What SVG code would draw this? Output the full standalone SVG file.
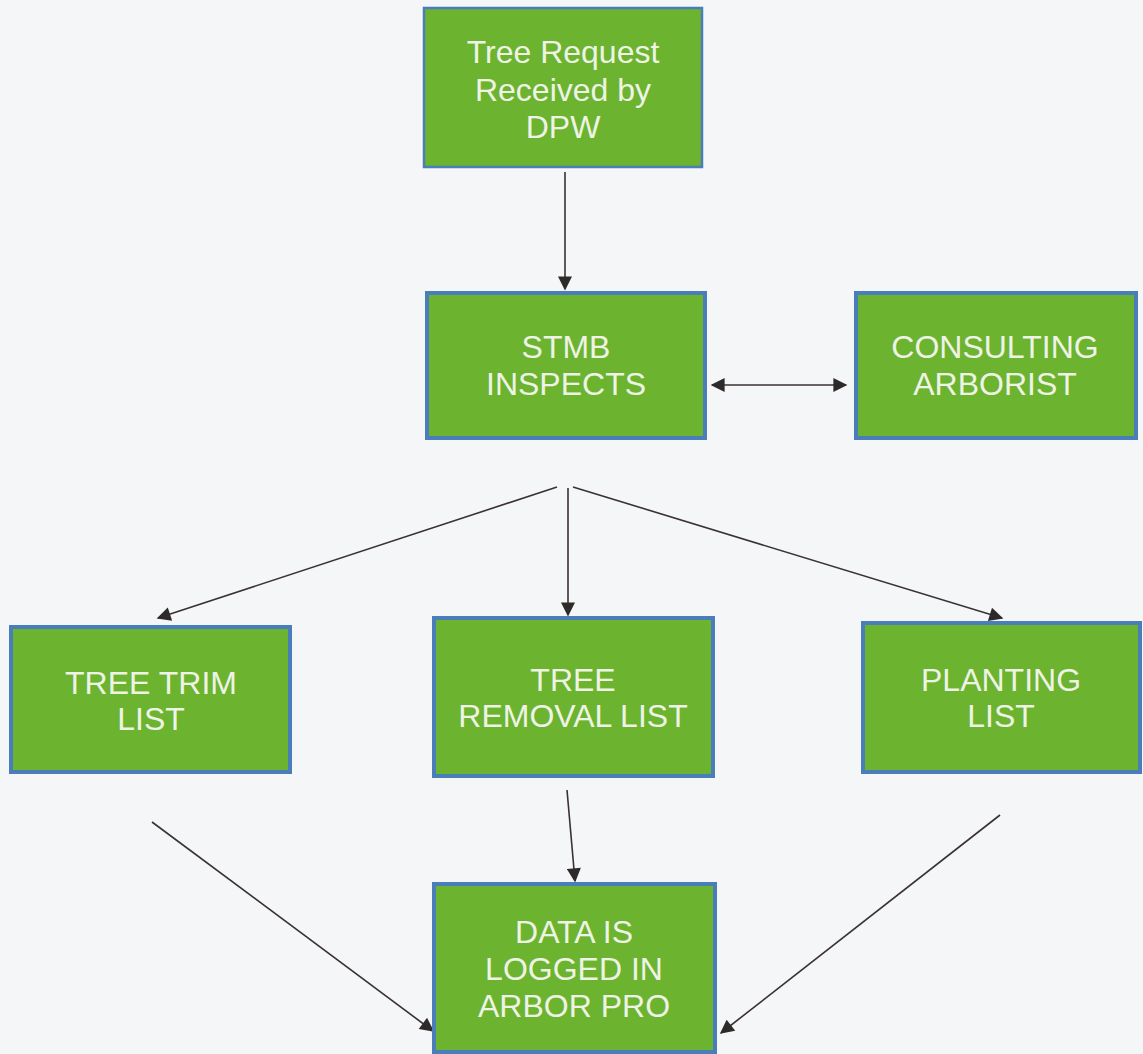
<svg xmlns="http://www.w3.org/2000/svg" width="1143" height="1054" viewBox="0 0 1143 1054">
<style>
.box{fill:#6cb32f;stroke:#4a7ebb;stroke-width:4}
.thin{stroke-width:2.5}
.t{font-family:"Liberation Sans",Arial,sans-serif;font-size:32px;fill:#eef3e6;text-anchor:middle}
.c{stroke:#3a3232;stroke-width:1.6;fill:none}
</style>
<defs>
<marker id="ahb" viewBox="0 0 10 10" refX="9" refY="5" markerWidth="16" markerHeight="14" markerUnits="userSpaceOnUse" orient="auto-start-reverse">
<path d="M0,0 L10,5 L0,10 z" fill="#2e2a2a"/>
</marker>
</defs>
<rect width="1143" height="1054" fill="#f5f6f8"/>
<g id="connectors">
<line class="c" x1="565" y1="172" x2="565" y2="289" marker-end="url(#ahb)"/>
<line class="c" x1="712" y1="385" x2="846" y2="385" marker-start="url(#ahb)" marker-end="url(#ahb)"/>
<line class="c" x1="557" y1="487" x2="158" y2="618" marker-end="url(#ahb)"/>
<line class="c" x1="568" y1="488" x2="568" y2="615" marker-end="url(#ahb)"/>
<line class="c" x1="573" y1="487" x2="1002" y2="618" marker-end="url(#ahb)"/>
<line class="c" x1="567" y1="790" x2="575" y2="881" marker-end="url(#ahb)"/>
<line class="c" x1="152" y1="822" x2="433" y2="1031" marker-end="url(#ahb)"/>
<line class="c" x1="1000" y1="815" x2="721" y2="1033" marker-end="url(#ahb)"/>
</g>
<g id="n1"><rect class="box thin" x="424" y="8" width="278" height="159"/>
<text class="t" x="563" y="63">Tree Request</text><text class="t" x="563" y="101">Received by</text><text class="t" x="563" y="138">DPW</text></g>
<g id="n2"><rect class="box" x="427" y="293" width="278" height="145"/>
<text class="t" x="566" y="358">STMB</text><text class="t" x="566" y="395">INSPECTS</text></g>
<g id="n3"><rect class="box" x="856" y="293" width="280" height="145"/>
<text class="t" x="995" y="358">CONSULTING</text><text class="t" x="995" y="395">ARBORIST</text></g>
<g id="n4"><rect class="box" x="11" y="627" width="279" height="145"/>
<text class="t" x="151" y="694">TREE TRIM</text><text class="t" x="151" y="730">LIST</text></g>
<g id="n5"><rect class="box" x="434" y="618" width="279" height="158"/>
<text class="t" x="573" y="691">TREE</text><text class="t" x="573" y="727">REMOVAL LIST</text></g>
<g id="n6"><rect class="box" x="863" y="623" width="277" height="149"/>
<text class="t" x="1001" y="691">PLANTING</text><text class="t" x="1001" y="727">LIST</text></g>
<g id="n7"><rect class="box" x="434" y="884" width="281" height="168"/>
<text class="t" x="574" y="943">DATA IS</text><text class="t" x="574" y="980">LOGGED IN</text><text class="t" x="574" y="1017">ARBOR PRO</text></g>
</svg>
